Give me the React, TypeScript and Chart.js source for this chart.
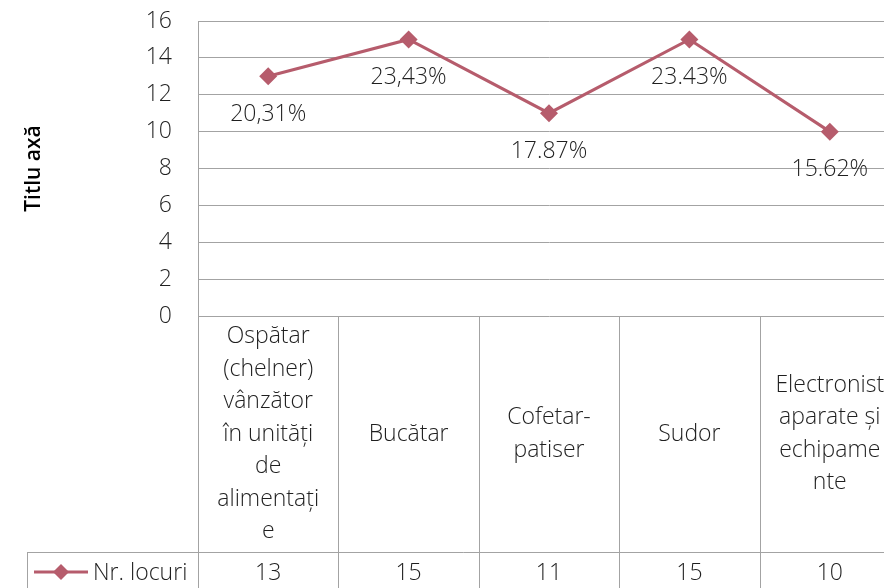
import React, { useEffect, useRef } from "react";
import { Chart, registerables } from "chart.js";

Chart.register(...registerables);

const categories: string[][] = [
  ["Ospătar", "(chelner)", "vânzător", "în unități", "de", "alimentați", "e"],
  ["Bucătar"],
  ["Cofetar-", "patiser"],
  ["Sudor"],
  ["Electronist", "aparate și", "echipame", "nte"],
];
const seriesName = "Nr. locuri";
const values = [13, 15, 11, 15, 10];
const percentLabels = ["20,31%", "23,43%", "17.87%", "23.43%", "15.62%"];

const LINE_COLOR = "#B65C6C";
const GRID_COLOR = "#A3A3A3";
const TEXT_COLOR = "#1f1f1f";
const FONT = "'Open Sans', 'DejaVu Sans', sans-serif";

const tablePlugin = {
  id: "dataTable",
  afterDraw(chart: any) {
    const ctx = chart.ctx as CanvasRenderingContext2D;
    const xs = chart.scales.x;
    const area = chart.chartArea;
    const n = categories.length;
    const colW = (area.right - area.left) / n;
    const top = area.bottom;
    const rowSplit = 552;
    const bottom = chart.height;
    const legendLeft = 27;

    ctx.save();
    ctx.strokeStyle = GRID_COLOR;
    ctx.lineWidth = 1;
    for (let i = 0; i <= n; i++) {
      const x = Math.round(area.left + i * colW) + 0.5;
      ctx.beginPath();
      ctx.moveTo(x, top);
      ctx.lineTo(x, bottom);
      ctx.stroke();
    }
    ctx.beginPath();
    ctx.moveTo(legendLeft + 0.5, rowSplit + 0.5);
    ctx.lineTo(area.right, rowSplit + 0.5);
    ctx.stroke();
    ctx.beginPath();
    ctx.moveTo(legendLeft + 0.5, rowSplit);
    ctx.lineTo(legendLeft + 0.5, bottom);
    ctx.stroke();

    ctx.fillStyle = TEXT_COLOR;
    ctx.font = `300 23px ${FONT}`;
    ctx.textAlign = "center";
    ctx.textBaseline = "middle";
    const lh = 32.5;
    const midY = (top + rowSplit) / 2;
    categories.forEach((lines, i) => {
      const cx = xs.getPixelForValue(i);
      const startY = midY - ((lines.length - 1) * lh) / 2;
      lines.forEach((ln, j) => ctx.fillText(ln, cx, startY + j * lh));
    });

    const rowY = 573;
    values.forEach((v, i) => {
      const cx = xs.getPixelForValue(i);
      ctx.fillText(String(v), cx, rowY);
    });

    ctx.strokeStyle = LINE_COLOR;
    ctx.lineWidth = 3;
    ctx.beginPath();
    ctx.moveTo(34, 572);
    ctx.lineTo(88, 572);
    ctx.stroke();
    ctx.fillStyle = LINE_COLOR;
    ctx.beginPath();
    const d = 8;
    ctx.moveTo(61, 572 - d);
    ctx.lineTo(61 + d, 572);
    ctx.lineTo(61, 572 + d);
    ctx.lineTo(61 - d, 572);
    ctx.closePath();
    ctx.fill();
    ctx.fillStyle = TEXT_COLOR;
    ctx.textAlign = "left";
    ctx.fillText(seriesName, 93, rowY);

    const meta = chart.getDatasetMeta(0);
    ctx.textAlign = "center";
    meta.data.forEach((pt: any, i: number) => {
      ctx.fillText(percentLabels[i], pt.x, pt.y + 38);
    });
    ctx.restore();
  },
};

export default function App() {
  const ref = useRef<HTMLCanvasElement>(null);
  useEffect(() => {
    if (!ref.current) return;
    const chart = new Chart(ref.current, {
      type: "line",
      data: {
        labels: categories.map((c) => c.join(" ")),
        datasets: [
          {
            label: seriesName,
            data: values,
            borderColor: LINE_COLOR,
            backgroundColor: LINE_COLOR,
            borderWidth: 3,
            pointStyle: "rectRot",
            pointRadius: 9,
            pointHoverRadius: 9,
            pointBackgroundColor: LINE_COLOR,
            pointBorderColor: LINE_COLOR,
            pointBorderWidth: 0,
            tension: 0,
          },
        ],
      },
      options: {
        animation: false,
        responsive: false,
        devicePixelRatio: 1,
        layout: { padding: { top: 21, bottom: 272, left: 0, right: 0 } },
        plugins: {
          legend: { display: false },
          tooltip: { enabled: false },
        },
        scales: {
          x: {
            type: "category",
            offset: true,
            display: false,
          },
          y: {
            min: 0,
            max: 16,
            ticks: {
              stepSize: 2,
              padding: 0,
              color: TEXT_COLOR,
              font: { family: FONT, size: 23, weight: "300" },
            },
            grid: {
              color: GRID_COLOR,
              drawTicks: true,
              tickLength: 26,
              tickColor: "rgba(0,0,0,0)",
            },
            border: { display: true, color: GRID_COLOR },
            title: {
              display: true,
              text: "Titlu axă",
              color: "#000",
              font: { family: FONT, size: 21, weight: "600" },
              padding: { top: 21, bottom: 0 },
            },
            afterFit: (scale: any) => {
              scale.width = 198;
            },
          },
        },
      },
      plugins: [tablePlugin],
    });
    return () => chart.destroy();
  }, []);
  return (
    <div
      style={{
        position: "absolute",
        left: 0,
        top: 0,
        width: 884,
        height: 588,
        overflow: "hidden",
        background: "#fff",
      }}
    >
      <canvas ref={ref} width={909} height={588} style={{ display: "block" }} />
    </div>
  );
}
